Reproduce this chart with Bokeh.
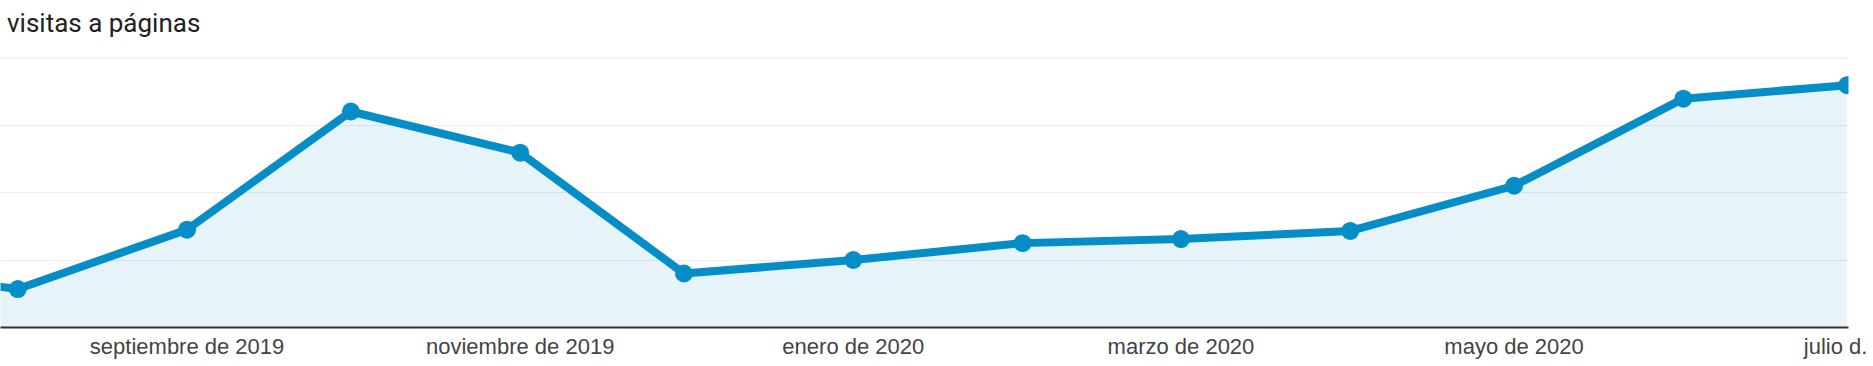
from datetime import datetime
import pandas as pd
from bokeh.plotting import figure
from bokeh.layouts import column
from bokeh.models import (ColumnDataSource, FixedTicker, CustomJSTickFormatter,
                          Range1d, Span, Div)
from bokeh.embed import file_html
from bokeh.resources import INLINE

# ---- data ----
months = ["2019-07-01", "2019-08-01", "2019-09-01", "2019-10-01", "2019-11-01",
          "2019-12-01", "2020-01-01", "2020-02-01", "2020-03-01", "2020-04-01",
          "2020-05-01", "2020-06-01", "2020-07-01"]
visits = [90, 57, 145, 320, 259, 80, 100, 125, 131, 143, 210, 339, 359]
tick_dates = ["2019-09-01", "2019-11-01", "2020-01-01", "2020-03-01",
              "2020-05-01", "2020-07-01"]
tick_labels = ["septiembre de 2019", "noviembre de 2019", "enero de 2020",
               "marzo de 2020", "mayo de 2020", "julio d.\u00a0"]
title_text = "visitas a páginas"

BLUE = "#058dc7"

src = ColumnDataSource(dict(x=pd.to_datetime(months), y=visits))
tick_ms = [float(v) for v in (pd.to_datetime(tick_dates).astype("int64") // 10**6)]

TITLE_H = 40

header = Div(
    text=title_text, width=1873, height=TITLE_H,
    styles={"font-family": "Roboto", "font-size": "26px", "line-height": "30px",
            "color": "#212121", "padding-top": "8px", "padding-left": "7px",
            "box-sizing": "border-box", "margin": "0"},
)

p = figure(
    x_axis_type="datetime",
    y_axis_location=None,
    frame_width=1848, frame_height=270,
    min_border_left=0, min_border_right=25, min_border_top=57 - TITLE_H,
    min_border_bottom=0,
    x_range=Range1d(datetime(2019, 7, 28, 20, 0), datetime(2020, 7, 1, 5, 45)),
    y_range=Range1d(0, 400),
    output_backend="svg", toolbar_location=None,
)
p.outline_line_color = None
p.background_fill_color = "white"
p.border_fill_color = "white"

p.xgrid.visible = False
p.ygrid.ticker = FixedTicker(ticks=[100, 200, 300])
p.ygrid.grid_line_color = "#eeeeee"
p.ygrid.grid_line_width = 1

top_line = Span(location=400, dimension="width", line_color="#e8e8e8", line_width=2)
p.add_layout(top_line)

p.varea(x="x", y1=0, y2="y", source=src, fill_color=BLUE, fill_alpha=0.1)
p.line(x="x", y="y", source=src, line_color=BLUE, line_width=8, line_join="round")
p.scatter(x="x", y="y", source=src, size=18, fill_color=BLUE, line_color=None)

ax = p.xaxis[0]
ax.ticker = FixedTicker(ticks=tick_ms)
ax.formatter = CustomJSTickFormatter(
    args=dict(tvals=tick_ms, tlabels=tick_labels),
    code="""
for (let i = 0; i < tvals.length; i++) {
  if (Math.abs(tick - tvals[i]) < 1000) { return tlabels[i]; }
}
return "";
""")
ax.axis_line_color = "#333333"
ax.axis_line_width = 2
ax.major_tick_line_color = None
ax.minor_tick_line_color = None
ax.major_tick_out = 0
ax.major_tick_in = 0
ax.major_label_standoff = 6
ax.major_label_text_font = "Liberation Sans"
ax.major_label_text_font_size = "22px"
ax.major_label_text_color = "#444444"

layout = column(header, p, spacing=0)
open("out.html", "w").write(file_html(layout, INLINE))
